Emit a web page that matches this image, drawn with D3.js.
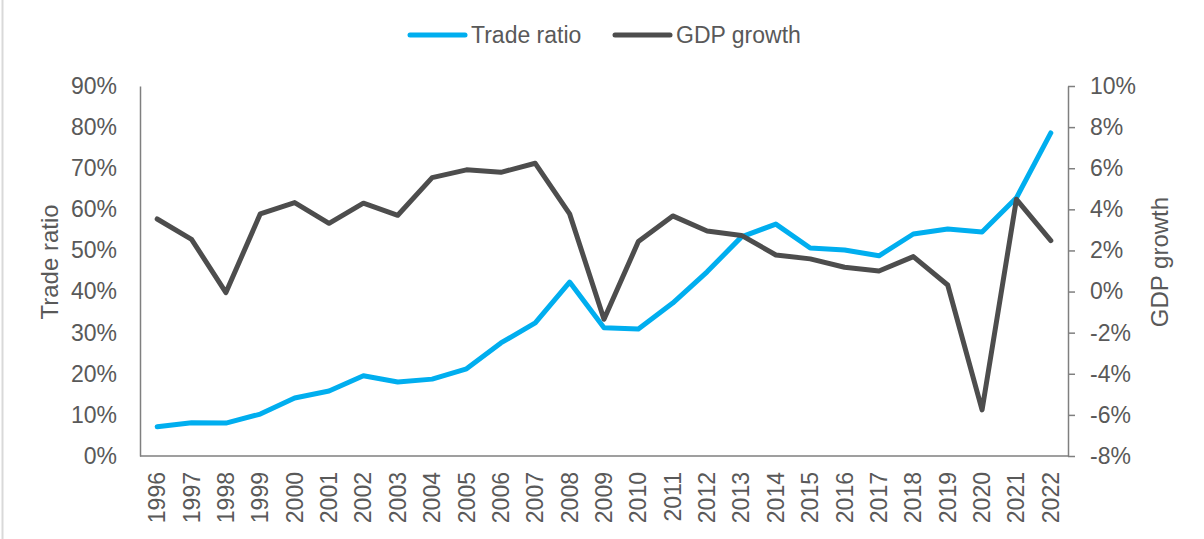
<!DOCTYPE html>
<html>
<head>
<meta charset="utf-8">
<script src="https://cdn.jsdelivr.net/npm/d3@7"></script>
<style>
  html, body { margin: 0; padding: 0; background: #fff; }
  svg { display: block; font-family: "Liberation Sans", Arial, sans-serif; }
</style>
</head>
<body>
<svg id="chart" width="1204" height="539"></svg>
<script>
// Years on the category axis
const years = ["1996","1997","1998","1999","2000","2001","2002","2003","2004","2005",
  "2006","2007","2008","2009","2010","2011","2012","2013","2014","2015",
  "2016","2017","2018","2019","2020","2021","2022"];

// Trade ratio, share of GDP (left axis)
const tradeRatio = [0.071, 0.081, 0.080, 0.102, 0.141, 0.158, 0.195, 0.180, 0.187, 0.212,
  0.275, 0.324, 0.423, 0.312, 0.309, 0.372, 0.448, 0.533, 0.564, 0.506,
  0.501, 0.487, 0.540, 0.552, 0.545, 0.628, 0.786];

// Real GDP growth (right axis)
const gdpGrowth = [0.0353, 0.0254, -0.0005, 0.0378, 0.0433, 0.0332, 0.0430, 0.0371, 0.0554, 0.0592,
  0.0580, 0.0624, 0.0378, -0.0135, 0.0243, 0.0368, 0.0295, 0.0273, 0.0178, 0.0159,
  0.0118, 0.0100, 0.0170, 0.0032, -0.0576, 0.0449, 0.0248];

// Axis ticks
const leftTicks = [0, 0.1, 0.2, 0.3, 0.4, 0.5, 0.6, 0.7, 0.8, 0.9];
const rightTicks = [-0.08, -0.06, -0.04, -0.02, 0, 0.02, 0.04, 0.06, 0.08, 0.10];

const seriesNames = ["Trade ratio", "GDP growth"];
const colors = { trade: "#00AEEF", gdp: "#4D4D4D" };
const textColor = "#595959";
const fontSize = 23;

const svg = d3.select("#chart");
const plot = { left: 140, right: 1068, top: 86, bottom: 456 };

// thin frame edge on the left
svg.append("line")
  .attr("x1", 2.5).attr("x2", 2.5).attr("y1", 0).attr("y2", 539)
  .attr("stroke", "#d9d9d9").attr("stroke-width", 2);

const x = d3.scaleBand().domain(years).range([plot.left, plot.right]).padding(0);
const yL = d3.scaleLinear().domain([0, 0.9]).range([plot.bottom, plot.top]);
const yR = d3.scaleLinear().domain([-0.08, 0.10]).range([plot.bottom, plot.top]);
const cx = d => x(d) + x.bandwidth() / 2;

// percent labels with a plain hyphen for negatives
const pct = d => (d < 0 ? "-" : "") + Math.round(Math.abs(d) * 100) + "%";

// Left axis: line only, labels right-aligned
const gL = svg.append("g").attr("transform", `translate(${plot.left},0)`)
  .call(d3.axisLeft(yL).tickValues(leftTicks).tickSize(0).tickPadding(23).tickFormat(pct));
gL.select(".domain").attr("stroke", "#7f7f7f").attr("stroke-width", 1.5);
gL.selectAll("text").attr("fill", textColor).style("font-size", fontSize + "px")
  .style("font-family", "'Liberation Sans', Arial, sans-serif");

// Right axis with outward ticks
const gR = svg.append("g").attr("transform", `translate(${plot.right},0)`)
  .call(d3.axisRight(yR).tickValues(rightTicks).tickSizeInner(7).tickSizeOuter(0)
    .tickPadding(15).tickFormat(pct));
gR.select(".domain").attr("stroke", "#7f7f7f").attr("stroke-width", 1.5);
gR.selectAll(".tick line").attr("stroke", "#7f7f7f").attr("stroke-width", 1.5);
gR.selectAll("text").attr("fill", textColor).style("font-size", fontSize + "px")
  .style("font-family", "'Liberation Sans', Arial, sans-serif");

// Category axis baseline
svg.append("line")
  .attr("x1", plot.left).attr("x2", plot.right)
  .attr("y1", plot.bottom).attr("y2", plot.bottom)
  .attr("stroke", "#7f7f7f").attr("stroke-width", 1.5);

// Year labels, rotated
svg.append("g").selectAll("text").data(years).join("text")
  .attr("transform", d => `translate(${cx(d) + 8},472) rotate(-90)`)
  .attr("text-anchor", "end")
  .attr("fill", textColor)
  .style("font-size", fontSize + "px")
  .text(d => d);

// Axis titles
svg.append("text")
  .attr("transform", "translate(58,262) rotate(-90)")
  .attr("text-anchor", "middle").attr("fill", textColor)
  .style("font-size", "24px").text(seriesNames[0]);
svg.append("text")
  .attr("transform", "translate(1168,262) rotate(-90)")
  .attr("text-anchor", "middle").attr("fill", textColor)
  .style("font-size", "24px").text(seriesNames[1]);

// Series lines
const tradeLine = d3.line().x((d, i) => cx(years[i])).y(d => yL(d));
const gdpLine = d3.line().x((d, i) => cx(years[i])).y(d => yR(d));

svg.append("path").datum(tradeRatio)
  .attr("d", tradeLine).attr("fill", "none")
  .attr("stroke", colors.trade).attr("stroke-width", 5)
  .attr("stroke-linejoin", "round").attr("stroke-linecap", "round");

svg.append("path").datum(gdpGrowth)
  .attr("d", gdpLine).attr("fill", "none")
  .attr("stroke", colors.gdp).attr("stroke-width", 5)
  .attr("stroke-linejoin", "round").attr("stroke-linecap", "round");

// Legend
const legendItems = [
  { name: seriesNames[0], color: colors.trade, x: 410 },
  { name: seriesNames[1], color: colors.gdp, x: 615 }
];
const lg = svg.append("g");
legendItems.forEach(it => {
  lg.append("line")
    .attr("x1", it.x).attr("x2", it.x + 55).attr("y1", 35).attr("y2", 35)
    .attr("stroke", it.color).attr("stroke-width", 5).attr("stroke-linecap", "round");
  lg.append("text")
    .attr("x", it.x + 61).attr("y", 43)
    .attr("fill", textColor).style("font-size", fontSize + "px")
    .text(it.name);
});
</script>
</body>
</html>
